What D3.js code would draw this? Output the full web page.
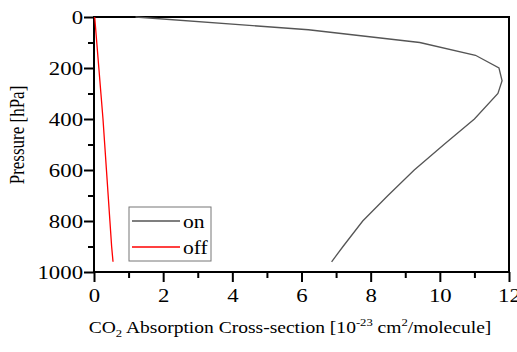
<!DOCTYPE html>
<html><head><meta charset="utf-8">
<script src="https://cdn.jsdelivr.net/npm/d3@7"></script>
</head><body style="margin:0;background:#fff;font-family:'Liberation Serif'">
<svg id="chart" width="517" height="352" style="font-family:'Liberation Serif'"></svg>
<script>
const seriesNames = ["on", "off"];
const onPressure = [0, 50, 100, 150, 200, 250, 300, 400, 500, 600, 700, 800, 900, 960];
const onValues   = [1.2, 6.2, 9.42, 11.03, 11.71, 11.8, 11.68, 11.0, 10.12, 9.26, 8.5, 7.77, 7.2, 6.87];
const offPressure = [0, 100, 200, 300, 400, 500, 600, 700, 800, 900, 960];
const offValues   = [0.02, 0.08, 0.14, 0.2, 0.26, 0.31, 0.36, 0.41, 0.46, 0.51, 0.55];
const xTicks = [0, 2, 4, 6, 8, 10, 12];
const yTicks = [0, 200, 400, 600, 800, 1000];
const colors = {on: "#555555", off: "#ff0000"};

const svg = d3.select("#chart");
const L = 94, R = 509, T = 17, B = 272;
const S = 1.2; // horizontal stretch of the reference's lettering
const x = d3.scaleLinear().domain([0, 12]).range([L, R]);
const y = d3.scaleLinear().domain([0, 1000]).range([T, B]);

const xMinor = d3.range(1, 12, 2);
const yMinor = d3.range(100, 1000, 200);

function styleText(sel, size) {
  sel.attr("font-family", "Liberation Serif").style("font-family", "'Liberation Serif'")
     .style("font-size", size + "px").attr("fill", "#000");
}

const xAxis = svg.append("g").attr("transform", `translate(0,${B})`)
  .call(d3.axisBottom(x).tickValues(xTicks).tickSize(10).tickPadding(7).tickFormat(d3.format("d")));
const xAxisMinor = svg.append("g").attr("transform", `translate(0,${B})`)
  .call(d3.axisBottom(x).tickValues(xMinor).tickSize(6).tickFormat(""));
const yAxis = svg.append("g").attr("transform", `translate(${L},0)`)
  .call(d3.axisLeft(y).tickValues(yTicks).tickSize(10).tickPadding(1).tickFormat(d3.format("d")));
const yAxisMinor = svg.append("g").attr("transform", `translate(${L},0)`)
  .call(d3.axisLeft(y).tickValues(yMinor).tickSize(6).tickFormat(""));
[xAxis, xAxisMinor, yAxis, yAxisMinor].forEach(g => {
  g.attr("font-family", "Liberation Serif");
  g.select(".domain").remove();
  g.selectAll(".tick line").attr("stroke", "#000").attr("stroke-width", 2);
  styleText(g.selectAll("text"), 19);
  g.selectAll("text").attr("transform", `scale(${S},1)`);
});
yAxis.selectAll("text").attr("x", -11 / S);

svg.append("rect").attr("x", L).attr("y", T).attr("width", R - L).attr("height", B - T)
  .attr("fill", "none").attr("stroke", "#000").attr("stroke-width", 2);

const line = d3.line().x(d => x(d[0])).y(d => y(d[1]));
svg.append("path").datum(onValues.map((v, i) => [v, onPressure[i]]))
  .attr("d", line).attr("fill", "none").attr("stroke", colors.on).attr("stroke-width", 1.3);
svg.append("path").datum(offValues.map((v, i) => [v, offPressure[i]]))
  .attr("d", line).attr("fill", "none").attr("stroke", colors.off).attr("stroke-width", 1.3);

const lg = svg.append("g").attr("transform", "translate(129,207)");
lg.append("rect").attr("width", 82).attr("height", 54).attr("fill", "#fff")
  .attr("stroke", "#777").attr("stroke-width", 1);
seriesNames.forEach((n, i) => {
  const yy = 14 + i * 26;
  lg.append("line").attr("x1", 3).attr("x2", 51).attr("y1", yy).attr("y2", yy)
    .attr("stroke", colors[n]).attr("stroke-width", 1.3);
  styleText(lg.append("text").attr("transform", `translate(54,${yy + 7}) scale(${S},1)`).text(n), 18);
});

styleText(svg.append("text").attr("transform", `translate(24,135) rotate(-90) scale(1,${S})`)
  .attr("text-anchor", "middle").text("Pressure [hPa]"), 17);
const xt = svg.append("text").attr("transform", `translate(290,333) scale(1.15,1)`).attr("text-anchor", "middle");
styleText(xt, 17);
xt.append("tspan").text("CO");
xt.append("tspan").attr("dy", 4).style("font-size", "11px").text("2");
xt.append("tspan").attr("dy", -4).text(" Absorption Cross-section [10");
xt.append("tspan").attr("dy", -7).style("font-size", "11px").text("-23");
xt.append("tspan").attr("dy", 7).text(" cm");
xt.append("tspan").attr("dy", -7).style("font-size", "11px").text("2");
xt.append("tspan").attr("dy", 7).text("/molecule]");
</script></body></html>
